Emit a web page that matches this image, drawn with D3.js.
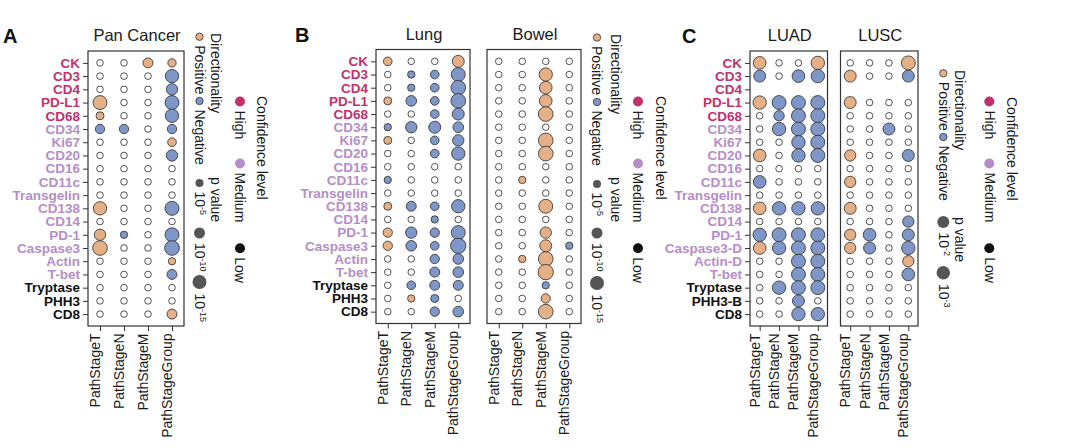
<!DOCTYPE html>
<html>
<head>
<meta charset="utf-8">
<script src="https://cdn.jsdelivr.net/npm/d3@7"></script>
<style>
  body { margin: 0; background: #fff; }
  text { font-family: "Liberation Sans", Arial, Helvetica, sans-serif; }
</style>
</head>
<body>
<div id="chart"></div>
<script>
// ---- data ----
const markers = ["CK", "CD3", "CD4", "PD-L1", "CD68", "CD34", "Ki67", "CD20", "CD16", "CD11c",
    "Transgelin", "CD138", "CD14", "PD-1", "Caspase3", "Actin", "T-bet", "Tryptase", "PHH3", "CD8"];
const markersC = ["CK", "CD3", "CD4", "PD-L1", "CD68", "CD34", "Ki67", "CD20", "CD16", "CD11c",
    "Transgelin", "CD138", "CD14", "PD-1", "Caspase3-D", "Actin-D", "T-bet", "Tryptase", "PHH3-B", "CD8"];
const confidence = ["High", "High", "High", "High", "High",
    "Medium", "Medium", "Medium", "Medium", "Medium", "Medium", "Medium", "Medium", "Medium", "Medium", "Medium", "Medium",
    "Low", "Low", "Low"];
const stages = ["PathStageT", "PathStageN", "PathStageM", "PathStageGroup"];

// signed -log10(p): + positive, - negative, 0 not significant, null not tested
const panCancer = [
    [0, 0, 8.3, 5.5], [0, 0, 0, -13.9], [0, 0, 0, -10.6], [15, 0, 0, -15], [5, 0, 0, -13.9],
    [-7.2, -7.2, 0, -7.2], [0, 0, 0, 6.1], [0, 0, 0, -10.6], [0, 0, 0, 0], [0, 0, 0, 0],
    [0, 0, 0, 0], [13.9, 0, 0, -15], [0, 0, 0, 0], [10.6, -3.9, 0, -15], [16.1, 0, 0, -16.1],
    [0, 0, 0, 3.9], [0, 0, 0, -8.3], [0, 0, 0, 0], [0, 0, 0, 0], [0, 0, 0, 8.3]
];
const lung = [
    [6.1, 0, 0, 11.7], [0, -3.9, -6.1, -15], [0, -3.9, -6.1, -16.1], [5, -9.4, -6.1, -16.1], [0, 0, -6.1, -11.7],
    [-3.9, -10.6, -11.7, -9.4], [5, 0, -6.1, -10.6], [0, 0, -6.1, -13.9], [0, 0, 0, 0], [-3.9, 0, 0, 0],
    [0, 0, 0, 0], [5, -8.3, -6.1, -13.9], [0, 0, -3.9, 0], [7.2, -10.6, -7.2, -15], [7.2, -9.4, -6.1, -17.2],
    [0, 0, -7.2, -9.4], [0, 0, -8.3, -9.4], [0, -6.1, -8.3, -8.3], [0, 3.9, -5, 0], [0, 0, -7.2, -9.4]
];
const bowel = [
    [0, 0, 0, 0], [0, 0, 13.9, 0], [0, 0, 12.8, 0], [0, 0, 12.8, 0], [0, 0, 16.1, 0],
    [0, 0, 0, 0], [0, 0, 16.1, 0], [0, 0, 16.1, 0], [0, 0, 0, 0], [0, 3.9, 0, 0],
    [0, 0, 0, 0], [0, 0, 15, 0], [0, 0, 0, 0], [0, 0, 10.6, 0], [0, 0, 11.7, -3.9],
    [0, 3.9, 16.1, 0], [0, 0, 17.2, 0], [0, 0, -3.9, 0], [0, 0, 7.2, 0], [0, 0, 16.1, 0]
];
const luad = [
    [2.5, 0, 0, 3], [-2, 0, -2.5, -3], null, [3, -3.4, -3.4, -3.4], [0, -0.8, -3.4, -3.4],
    [0, -3, -3.4, -3.4], [0, 0, -3, -3.4], [2.5, 0, -3, -3.4], [0, 0, 0, 0], [-2.5, 0, 0, 0],
    [0, 0, 0, 0], [2.5, -3, -3, -3], [0, 0, 0, 0], [-3, -3.4, -3.4, -3.4], [2.5, -3, -3.4, -3.4],
    [0, 0, -3.4, -3.4], [0, 0, -3.4, -3.4], [0, -3, -3.4, -3.4], [0, 0, -2, 0], [0, 0, -3, -3]
];
const lusc = [
    [0, 0, 0, 3.4], [2, 0, 0, -2], null, [2, 0, 0, 0], [0, 0, 0, 0],
    [0, 0, -2, 0], [0, 0, 0, 0], [1.5, 0, 0, -2], [0, 0, 0, 0], [1.5, 0, 0, 0],
    [0, 0, 0, 0], [2, 0, 0, 0], [0, 0, 0, -1.5], [1.5, -2.5, 0, -2], [1.5, -2, 0, -3],
    [0, 0, 0, 1.5], [0, 0, 0, -2.5], [0, 0, 0, 0], [0, 0, 0, 0], [0, 0, 0, 0]
];
const confLevels = ["High", "Medium", "Low"];
const pTicksAB = [5, 10, 15];
const pTicksC = [2, 3];

// ---- setup ----
const width = 1080, height = 448;
const svg = d3.select("#chart").append("svg")
    .attr("width", width)
    .attr("height", height);

const colors = { pos: "#E6B087", neg: "#7F96C8", High: "#C3306E", Medium: "#B68DC8", Low: "#111111" };
const ink = "#333";

const rAB = d3.scaleLinear().domain([5, 15]).range([4, 7]);
const rC = d3.scaleLinear().domain([2, 3]).range([6, 6.7]);

const panels = [
    { title: "Pan Cancer", data: panCancer, labels: markers, x0: 88, x1: 184, top: 51, bottom: 326, r: rAB },
    { title: "Lung", data: lung, labels: markers, x0: 376, x1: 470, top: 49.5, bottom: 323.5, r: rAB },
    { title: "Bowel", data: bowel, labels: null, x0: 487, x1: 581, top: 49.5, bottom: 323.5, r: rAB },
    { title: "LUAD", data: luad, labels: markersC, x0: 750, x1: 827.5, top: 51, bottom: 326, r: rC },
    { title: "LUSC", data: lusc, labels: null, x0: 840.5, x1: 918, top: 51, bottom: 326, r: rC }
];

function drawPanel(p) {
    const g = svg.append("g");
    const x = d3.scalePoint().domain(stages).range([p.x0, p.x1]).padding(0.5);
    const y = d3.scalePoint().domain(d3.range(markers.length)).range([p.top, p.bottom]).padding(0.9);

    g.append("text")
        .attr("x", (p.x0 + p.x1) / 2 + 1)
        .attr("y", p.top - 10)
        .attr("text-anchor", "middle")
        .style("font-size", "16.5px")
        .style("fill", "#1a1a1a")
        .text(p.title);

    // flatten cells
    const cells = [];
    p.data.forEach((row, i) => {
        if (row === null) return;
        row.forEach((v, j) => cells.push({ i: i, stage: stages[j], v: v }));
    });

    g.selectAll(".dot")
        .data(cells)
        .enter()
        .append("circle")
        .attr("class", "dot")
        .attr("cx", d => x(d.stage))
        .attr("cy", d => y(d.i))
        .attr("r", d => d.v === 0 ? 3.3 : p.r(Math.abs(d.v)))
        .attr("fill", d => d.v === 0 ? "#fff" : (d.v > 0 ? colors.pos : colors.neg))
        .attr("stroke", ink)
        .attr("stroke-width", 0.85);

    g.append("rect")
        .attr("x", p.x0).attr("y", p.top)
        .attr("width", p.x1 - p.x0).attr("height", p.bottom - p.top)
        .attr("fill", "none")
        .attr("stroke", ink)
        .attr("stroke-width", 1.2);

    // x axis
    const xa = g.append("g")
        .attr("transform", `translate(0,${p.bottom})`)
        .call(d3.axisBottom(x).tickSize(5));
    xa.select(".domain").remove();
    xa.selectAll("line").attr("stroke", ink);
    xa.selectAll("text")
        .attr("transform", "rotate(-90)")
        .attr("text-anchor", "end")
        .attr("x", -7.5)
        .attr("y", -0.5)
        .attr("dy", 0)
        .style("font-size", "14px")
        .style("font-family", "'Liberation Sans', Arial, sans-serif")
        .style("fill", "#1a1a1a");

    // y axis
    if (p.labels) {
        const ya = g.append("g")
            .attr("transform", `translate(${p.x0},0)`)
            .call(d3.axisLeft(y).tickSize(5).tickPadding(3).tickFormat(i => p.labels[i]));
        ya.select(".domain").remove();
        ya.selectAll("line").attr("stroke", ink);
        ya.selectAll("text")
            .style("font-size", "13.5px")
            .style("font-weight", "bold")
            .style("font-family", "'Liberation Sans', Arial, sans-serif")
            .style("fill", i => colors[confidence[i]]);
    }
}

panels.forEach(drawPanel);

// panel letters
[["A", 3, 43], ["B", 295, 42], ["C", 682, 43]].forEach(l => {
    svg.append("text")
        .attr("x", l[1]).attr("y", l[2])
        .style("font-size", "20px")
        .style("font-weight", "bold")
        .style("fill", "#111")
        .text(l[0]);
});

// ---- legends (rotated 90deg) ----
const legends = [
    { dirCx: 199.5, dirTitleX: 211, dirTitleY: 33, posY: 36.7, negY: 101, pTitleY: 177, pYs: [183, 233, 282],
      ticks: pTicksAB, r: rAB, confCx: 240, confTitleX: 257, confTitleY: 96 },
    { dirCx: 597, dirTitleX: 611, dirTitleY: 34, posY: 37.5, negY: 102, pTitleY: 177, pYs: [184, 233, 283],
      ticks: pTicksAB, r: rAB, confCx: 638, confTitleX: 655.5, confTitleY: 96 },
    { dirCx: 943.3, dirTitleX: 955, dirTitleY: 70, posY: 73.3, negY: 137, pTitleY: 217, pYs: [222, 272.7],
      ticks: pTicksC, r: rC, confCx: 989.3, confTitleX: 1006.7, confTitleY: 97 }
];
const confYs = [101.5, 163.5, 248.3];

function rotText(g, x, y, str, size) {
    return g.append("text")
        .attr("transform", `translate(${x},${y}) rotate(90)`)
        .style("font-size", (size || 14) + "px")
        .style("fill", "#1a1a1a")
        .text(str);
}

function drawLegend(L) {
    const g = svg.append("g");

    // directionality
    rotText(g, L.dirTitleX, L.dirTitleY, "Directionality");
    [["Positive", L.posY, colors.pos], ["Negative", L.negY, colors.neg]].forEach(d => {
        g.append("circle")
            .attr("cx", L.dirCx).attr("cy", d[1]).attr("r", 3.7)
            .attr("fill", d[2]).attr("stroke", ink).attr("stroke-width", 0.8);
        rotText(g, L.dirCx - 4.8, d[1] + 8.5, d[0]);
    });

    // p value sizes
    rotText(g, L.dirTitleX, L.pTitleY, "p value");
    L.ticks.forEach((t, k) => {
        const r = L.r(t);
        g.append("circle")
            .attr("cx", L.dirCx).attr("cy", L.pYs[k]).attr("r", r)
            .attr("fill", "#555");
        const tx = rotText(g, L.dirCx - 4.8, L.pYs[k] + r + 4.5, "10");
        tx.append("tspan")
            .attr("dy", -5)
            .style("font-size", "9px")
            .text("-" + t);
    });

    // confidence level
    rotText(g, L.confTitleX, L.confTitleY, "Confidence level");
    confLevels.forEach((c, k) => {
        g.append("circle")
            .attr("cx", L.confCx).attr("cy", confYs[k]).attr("r", 5)
            .attr("fill", colors[c]);
        rotText(g, L.confCx - 4.8, confYs[k] + 9, c);
    });
}

legends.forEach(drawLegend);
</script>
</body>
</html>
